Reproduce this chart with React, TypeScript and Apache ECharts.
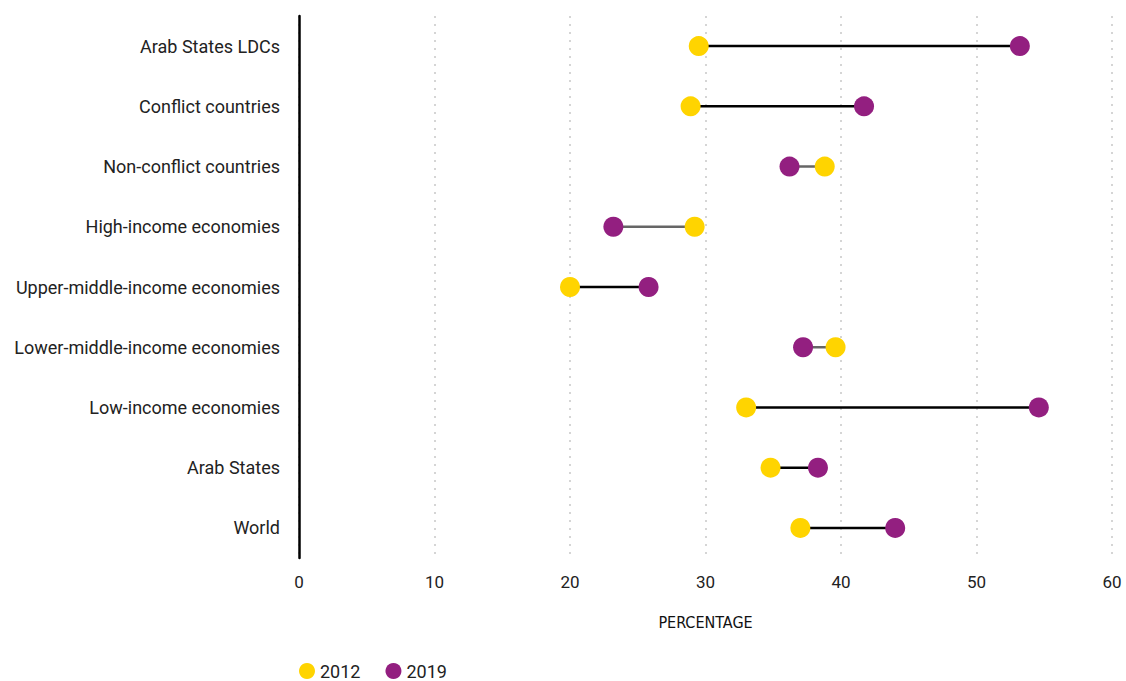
import React, { useEffect, useRef } from "react";
import * as echarts from "echarts";

const categories = [
  "Arab States LDCs",
  "Conflict countries",
  "Non-conflict countries",
  "High-income economies",
  "Upper-middle-income economies",
  "Lower-middle-income economies",
  "Low-income economies",
  "Arab States",
  "World",
];
const values2012 = [29.5, 28.9, 38.8, 29.2, 20.0, 39.6, 33.0, 34.8, 37.0];
const values2019 = [53.2, 41.7, 36.2, 23.2, 25.8, 37.2, 54.6, 38.3, 44.0];
const seriesNames = ["2012", "2019"];
const xTicks = [0, 10, 20, 30, 40, 50, 60];

const YELLOW = "#FFD400";
const PURPLE = "#931F80";
const LABEL_FONT = "Roboto, 'Liberation Sans', sans-serif";

export default function App() {
  const ref = useRef<HTMLDivElement>(null);
  useEffect(() => {
    if (!ref.current) return;
    const chart = echarts.init(ref.current, undefined, { renderer: "svg" });
    const segData = categories.map((c, i) => [values2012[i], values2019[i], i]);
    chart.setOption({
      animation: false,
      backgroundColor: "#ffffff",
      grid: { left: 299, right: 14, top: 16, bottom: 123, containLabel: false },
      legend: {
        data: seriesNames,
        left: 299,
        top: 662,
        padding: 0,
        icon: "circle",
        itemWidth: 16,
        itemHeight: 16,
        itemGap: 25,
        textStyle: {
          fontFamily: LABEL_FONT,
          fontSize: 18,
          lineHeight: 17,
          color: "#222",
        },
      },
      xAxis: {
        type: "value",
        min: xTicks[0],
        max: xTicks[xTicks.length - 1],
        interval: 10,
        axisLine: { show: false },
        axisTick: { show: false },
        axisLabel: {
          margin: 15,
          fontFamily: LABEL_FONT,
          fontSize: 17,
          color: "#222",
        },
        splitLine: {
          show: true,
          lineStyle: { color: "#c8c8c8", width: 1.5, type: [2, 6] },
        },
        name: "PERCENTAGE",
        nameLocation: "middle",
        nameGap: 56,
        nameTextStyle: {
          fontFamily: "'Liberation Sans Narrow', 'DejaVu Sans Condensed', sans-serif",
          fontSize: 16,
          fontWeight: 500,
          color: "#111",
        },
      },
      yAxis: {
        type: "category",
        data: categories,
        inverse: true,
        axisLine: { show: true, lineStyle: { color: "#000", width: 2.5 } },
        axisTick: { show: false },
        splitLine: { show: false },
        axisLabel: {
          margin: 19,
          padding: [3, 0, 0, 0],
          fontFamily: LABEL_FONT,
          fontSize: 18,
          color: "#222",
        },
      },
      series: [
        {
          type: "custom",
          name: "range",
          data: segData,
          encode: { x: [0, 1], y: 2 },
          z: 1,
          renderItem: (params: any, api: any) => {
            const a = api.value(0);
            const b = api.value(1);
            const idx = api.value(2);
            const p1 = api.coord([a, idx]);
            const p2 = api.coord([b, idx]);
            return {
              type: "line",
              shape: { x1: p1[0], y1: p1[1], x2: p2[0], y2: p2[1] },
              style: { stroke: b >= a ? "#000" : "#666", lineWidth: 2.5 },
            };
          },
        },
        {
          type: "scatter",
          name: seriesNames[0],
          data: values2012.map((v, i) => [v, i]),
          symbol: "circle",
          symbolSize: 20,
          itemStyle: { color: YELLOW, opacity: 1 },
          z: 3,
        },
        {
          type: "scatter",
          name: seriesNames[1],
          data: values2019.map((v, i) => [v, i]),
          symbol: "circle",
          symbolSize: 20,
          itemStyle: { color: PURPLE, opacity: 1 },
          z: 3,
        },
      ],
    });
    return () => chart.dispose();
  }, []);
  return (
    <div
      ref={ref}
      style={{ position: "fixed", left: 0, top: 0, width: 1126, height: 681 }}
    />
  );
}
